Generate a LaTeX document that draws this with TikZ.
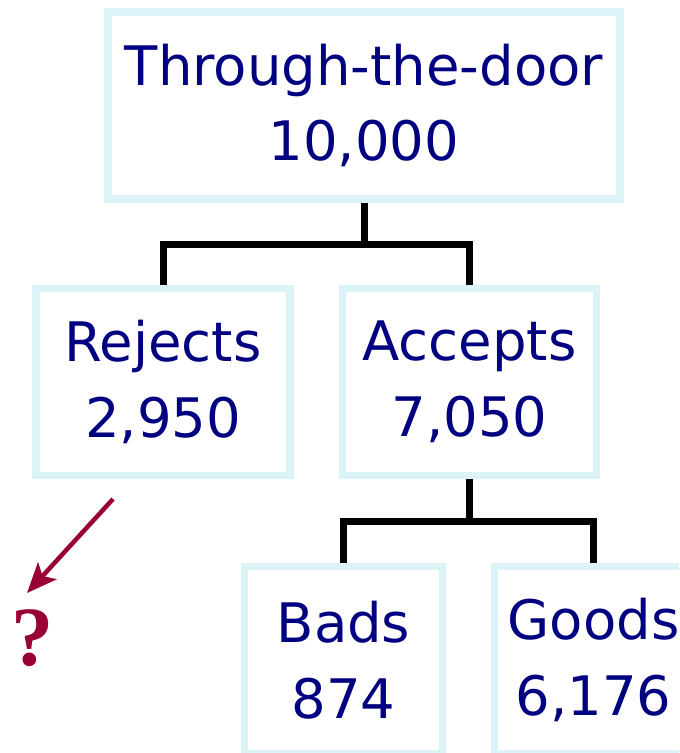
\documentclass[tikz,border=0pt]{standalone}
\usepackage{fontspec}
\setmainfont{DejaVu Sans}
\newfontfamily\qmarkfont{Liberation Serif}
\usetikzlibrary{arrows.meta,positioning}
\definecolor{boxcyan}{HTML}{DCF3F8}
\definecolor{textnavy}{HTML}{000080}
\definecolor{arrowred}{HTML}{990033}

\begin{document}
\begin{tikzpicture}[x=0.02cm, y=-0.02cm,
    countbox/.style={draw=boxcyan, line width=0.15cm, fill=white, text=textnavy,
        align=center, inner sep=0pt, font=\fontsize{31}{43}\selectfont},
    tree/.style={line width=0.14cm, black}]
    \useasboundingbox (0,0) rectangle (679,753);
    \clip (0,0) rectangle (679,753);

    % Applicant population
    \node[countbox, minimum width=10.24cm, minimum height=3.74cm] (door) at (364,105.5) {Through-the-door\\10,000};

    % First split: credit decision
    \node[countbox, minimum width=5.08cm, minimum height=3.75cm] (rej) at (163,382) {Rejects\\2,950};
    \node[countbox, minimum width=5.08cm, minimum height=3.75cm] (acc) at (469.5,382) {Accepts\\7,050};

    % Second split: observed outcome
    \node[countbox, minimum width=3.96cm, minimum height=3.75cm] (bad) at (343.5,660) {Bads\\874};
    \node[countbox, minimum width=3.96cm, minimum height=3.75cm] (good) at (593.5,660) {Goods\\6,176};

    % Tree connectors
    \coordinate (fork1) at (364,244);
    \draw[tree] (door.south) -- (fork1);
    \draw[tree] (rej.north) |- (fork1) -| (acc.north);
    \coordinate (fork2) at (469.5,521.5);
    \draw[tree] (acc.south) -- (fork2);
    \draw[tree] (bad.north) |- (fork2) -| (good.north);

    % Unknown outcome of the rejects
    \node[text=arrowred, inner sep=0pt, font=\qmarkfont\bfseries\fontsize{48}{48}\selectfont] (what) at (33,638) {?};
    \coordinate (rejout) at (113,499);
    \coordinate (whattip) at (27,593);
    \draw[-{Stealth[length=0.6cm, width=0.5cm, inset=0.14cm]}, line width=0.09cm, arrowred] (rejout) -- (whattip);
\end{tikzpicture}
\end{document}
